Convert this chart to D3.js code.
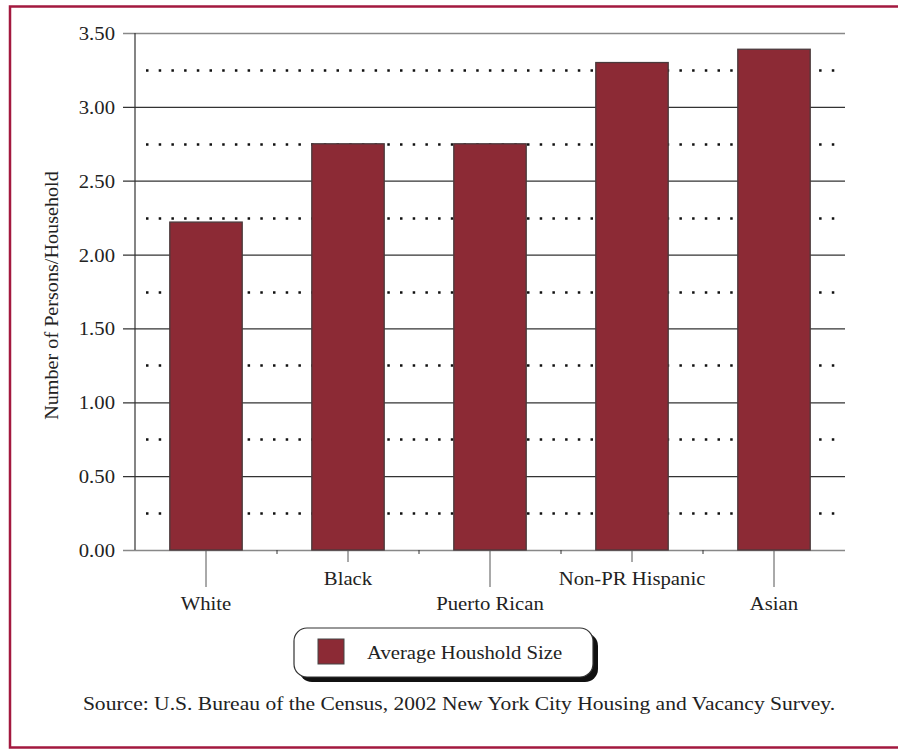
<!DOCTYPE html>
<html>
<head>
<meta charset="utf-8">
<script src="https://cdn.jsdelivr.net/npm/d3@7"></script>
<style>
  body { margin: 0; background: #fff; overflow: hidden; }
  svg { display: block; overflow: hidden; }
  svg text { font-family: "Liberation Serif", "DejaVu Serif", serif; fill: #222; }
</style>
</head>
<body>
<svg id="chart"></svg>
<script>
// data
const categories = ["White", "Black", "Puerto Rican", "Non-PR Hispanic", "Asian"];
const householdSize = [2.22, 2.75, 2.75, 3.30, 3.39];
const yTicks = [0, 0.5, 1, 1.5, 2, 2.5, 3, 3.5];
const dottedTicks = [0.25, 0.75, 1.25, 1.75, 2.25, 2.75, 3.25];
const seriesName = "Average Houshold Size";
const yTitle = "Number of Persons/Household";
const sourceText = "Source: U.S. Bureau of the Census, 2002 New York City Housing and Vacancy Survey.";

const width = 898, height = 751;
const plotLeft = 135, plotRight = 845, plotTop = 33, plotBottom = 550;
const barColor = "#8c2a35";
const stretch = 1.12; // the original type is set a bit wide

const svg = d3.select("#chart").attr("width", width).attr("height", height);

// frame (open on the right, cut off in the original)
svg.append("path")
  .attr("d", `M${width + 5},6.5 H10 V747.5 H${width + 5}`)
  .attr("fill", "none").attr("stroke", "#a3193f").attr("stroke-width", 2.5);

const x = d3.scaleBand()
  .domain(categories)
  .range([plotLeft, plotRight])
  .paddingInner(0.49)
  .paddingOuter(0.245);

const y = d3.scaleLinear().domain([0, 3.5]).range([plotBottom, plotTop]);

// place a text with wide type
function wideText(g, tx, ty, str, size, anchor, rot, sx = stretch) {
  return g.append("text")
    .attr("transform", `translate(${tx},${ty})${rot ? ` rotate(${rot})` : ""} scale(${sx},1)`)
    .attr("text-anchor", anchor)
    .attr("font-size", size)
    .text(str);
}

// dotted quarter lines
svg.append("g").selectAll("line")
  .data(dottedTicks)
  .join("line")
  .attr("x1", plotLeft + 11).attr("x2", plotRight - 5)
  .attr("y1", d => Math.round(y(d)) + 0.5).attr("y2", d => Math.round(y(d)) + 0.5)
  .attr("stroke", "#111").attr("stroke-width", 2.5)
  .attr("stroke-dasharray", "2.5,10.2");

// solid gridlines + y axis
const yAxis = d3.axisLeft(y)
  .tickValues(yTicks)
  .tickFormat(d3.format(".2f"))
  .tickSize(-(plotRight - plotLeft))
  .tickPadding(20);

const gy = svg.append("g")
  .attr("transform", `translate(${plotLeft},0)`)
  .call(yAxis);
gy.select(".domain").remove();
gy.selectAll(".tick line")
  .attr("x1", -12)
  .attr("stroke", d => (d === 0 || d === 3.5) ? "#888" : "#333")
  .attr("stroke-width", d => (d === 0 || d === 3.5) ? 1.6 : 1.2);
gy.selectAll(".tick text")
  .attr("font-size", 18.5)
  .attr("x", 0)
  .attr("dy", "0.35em")
  .attr("transform", `translate(-20,0) scale(${stretch},1)`);

svg.append("line")
  .attr("x1", plotLeft).attr("x2", plotLeft)
  .attr("y1", plotTop).attr("y2", plotBottom)
  .attr("stroke", "#333").attr("stroke-width", 1.2);

// bars
svg.append("g").selectAll("rect")
  .data(householdSize)
  .join("rect")
  .attr("x", (d, i) => x(categories[i]))
  .attr("y", d => y(d))
  .attr("width", x.bandwidth())
  .attr("height", d => plotBottom - y(d))
  .attr("fill", barColor)
  .attr("stroke", "#4a3a3c")
  .attr("stroke-width", 1.3);

// x axis ticks and staggered labels
const gx = svg.append("g");
categories.forEach((c, i) => {
  const cx = x(c) + x.bandwidth() / 2;
  const low = i % 2 === 0;
  gx.append("line")
    .attr("x1", cx).attr("x2", cx)
    .attr("y1", plotBottom).attr("y2", low ? 587 : 562)
    .attr("stroke", "#555").attr("stroke-width", 1);
  wideText(gx, cx, low ? 610 : 585, c, 18.5, "middle");
  if (i > 0) {
    const bx = x(c) - x.step() * x.paddingInner() / 2;
    gx.append("line")
      .attr("x1", bx).attr("x2", bx)
      .attr("y1", plotBottom).attr("y2", plotBottom + 4)
      .attr("stroke", "#333");
  }
});

// y title
wideText(svg, 58, (plotTop + plotBottom) / 2 + 4, yTitle, 18, "middle", -90);

// legend
const lg = svg.append("g");
lg.append("rect")
  .attr("x", 299).attr("y", 633).attr("width", 299).attr("height", 49)
  .attr("rx", 13).attr("fill", "#111");
lg.append("rect")
  .attr("x", 294).attr("y", 628).attr("width", 299).attr("height", 49)
  .attr("rx", 13).attr("fill", "#fff").attr("stroke", "#333").attr("stroke-width", 1.2);
lg.append("rect")
  .attr("x", 318).attr("y", 639).attr("width", 26).attr("height", 25)
  .attr("fill", barColor).attr("stroke", "#444");
wideText(lg, 367, 659, seriesName, 18.5, "start");

// source
wideText(svg, 459, 710, sourceText, 18.5, "middle", 0, 1.165);
</script>
</body>
</html>
